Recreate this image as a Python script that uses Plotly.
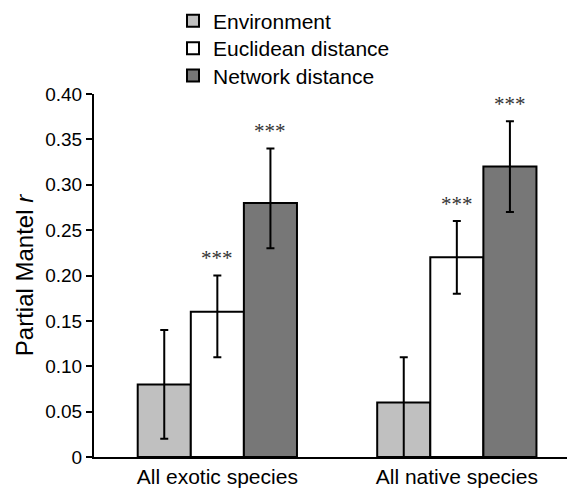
import plotly.graph_objects as go

categories = ["All exotic species", "All native species"]
series_names = ["Environment", "Euclidean distance", "Network distance"]
values = {
    "Environment": [0.08, 0.06],
    "Euclidean distance": [0.16, 0.22],
    "Network distance": [0.28, 0.32],
}
err_plus = {
    "Environment": [0.06, 0.05],
    "Euclidean distance": [0.04, 0.04],
    "Network distance": [0.06, 0.05],
}
err_minus = {
    "Environment": [0.06, 0.06],
    "Euclidean distance": [0.05, 0.04],
    "Network distance": [0.05, 0.05],
}
significance = {
    "Environment": ["", ""],
    "Euclidean distance": ["***", "***"],
    "Network distance": ["***", "***"],
}
y_tickvals = [0, 0.05, 0.10, 0.15, 0.20, 0.25, 0.30, 0.35, 0.40]
y_ticktext = ["0", "0.05", "0.10", "0.15", "0.20", "0.25", "0.30", "0.35", "0.40"]

colors = {"Environment": "#c0c0c0", "Euclidean distance": "#ffffff", "Network distance": "#777777"}
legend_ids = {"Environment": "legend", "Euclidean distance": "legend2", "Network distance": "legend3"}
legend_y = {"legend": 1.201, "legend2": 1.125, "legend3": 1.05}

fig = go.Figure()
for name in series_names:
    fig.add_trace(go.Bar(
        x=categories, y=values[name], name=name, legend=legend_ids[name],
        marker=dict(color=colors[name], line=dict(color="black", width=2)),
        error_y=dict(type="data", symmetric=False, array=err_plus[name], arrayminus=err_minus[name],
                     color="black", thickness=2, width=4),
    ))

offsets = {"Environment": -1, "Euclidean distance": 0, "Network distance": 1}
bar_w = 0.665 / 3
for name in series_names:
    for i, cat in enumerate(categories):
        s = significance[name][i]
        if s:
            fig.add_annotation(x=i + offsets[name] * bar_w, y=values[name][i] + err_plus[name][i] + 0.019,
                               xref="x", yref="y", text=s, showarrow=False,
                               font=dict(size=21, color="#333333", family="Liberation Serif"))

legend_common = dict(x=0.167, xanchor="left", yanchor="middle", font=dict(size=21),
                     bgcolor="rgba(0,0,0,0)")
fig.update_layout(
    width=567, height=489,
    margin=dict(l=94, r=0, t=94, b=32),
    paper_bgcolor="white", plot_bgcolor="white",
    barmode="group", bargap=0.335, bargroupgap=0,
    font=dict(family="Liberation Sans", color="black"),
    showlegend=True,
    legend=dict(y=legend_y["legend"], **legend_common),
    legend2=dict(y=legend_y["legend2"], **legend_common),
    legend3=dict(y=legend_y["legend3"], **legend_common),
    xaxis=dict(range=[-0.515, 1.46], showline=True, linecolor="black", linewidth=2,
               ticks="", tickfont=dict(size=21), showgrid=False, zeroline=False),
    yaxis=dict(range=[0, 0.40], tickvals=y_tickvals, ticktext=y_ticktext,
               showline=True, linecolor="black", linewidth=2, ticks="outside", ticklen=6,
               tickwidth=2, tickcolor="black", tickfont=dict(size=19), showgrid=False, zeroline=False,
               title=dict(text="Partial Mantel <i>r</i>", font=dict(size=24), standoff=5)),
)
fig.write_html("out.html")
